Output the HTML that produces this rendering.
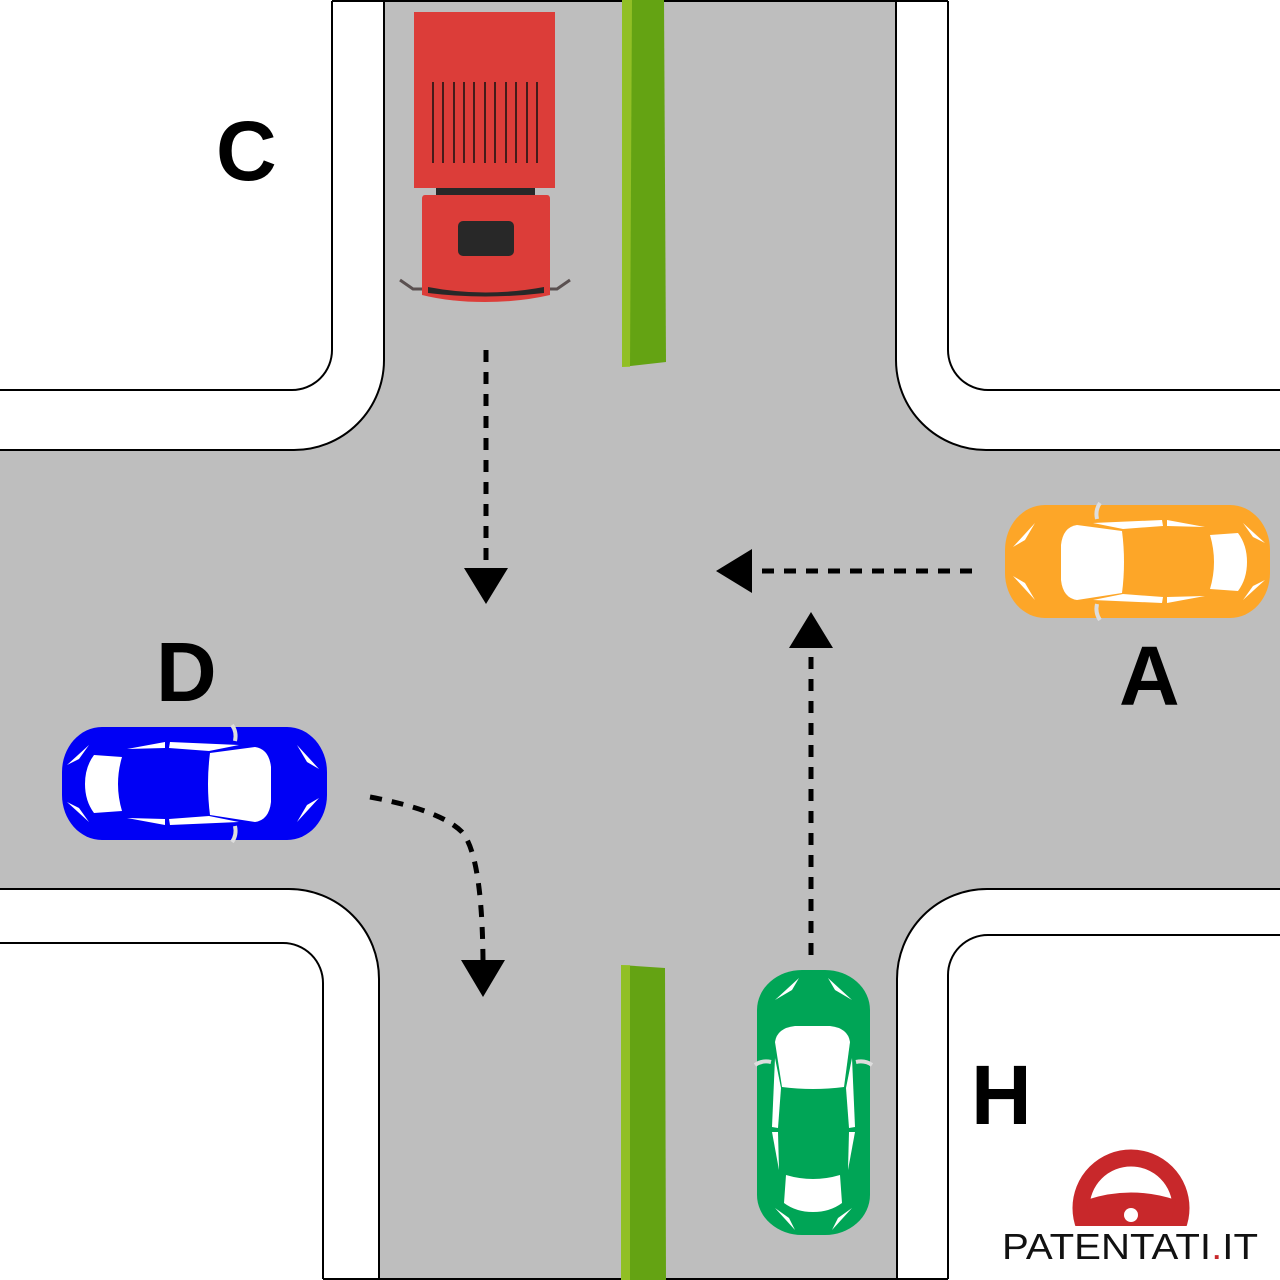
<!DOCTYPE html>
<html><head><meta charset="utf-8"><style>
html,body{margin:0;padding:0;background:#fff;}
svg{display:block;}
text{font-family:"Liberation Sans",sans-serif;font-weight:bold;}
</style></head><body>
<svg width="1280" height="1280" viewBox="0 0 1280 1280" xmlns="http://www.w3.org/2000/svg">
<defs>
<g id="car">
  <rect x="0" y="0" width="265" height="113" rx="40" ry="45"/>
  <path d="M72 20 Q58 22 56 40 L56 75 Q58 93 72 95 L117 88 Q121 57 117 26 Z" fill="#fff"/>
  <path d="M205 30 L233 28 Q242 40 242 57 Q242 74 233 86 L205 84 Q213 57 205 30 Z" fill="#fff"/>
  <path d="M88 18 L157 15 L158 21 L118 24 Z" fill="#fff"/>
  <path d="M162 15 L200 22 L162 21 Z" fill="#fff"/>
  <path d="M88 95 L157 98 L158 92 L118 89 Z" fill="#fff"/>
  <path d="M162 98 L200 91 L162 92 Z" fill="#fff"/>
  <path d="M8 42 L30 18 L20 35 Z" fill="#fff"/>
  <path d="M8 71 L30 95 L20 78 Z" fill="#fff"/>
  <path d="M238 18 L260 38 L248 32 Z" fill="#fff"/>
  <path d="M238 95 L260 75 L248 81 Z" fill="#fff"/>
  <path d="M95 -2 Q90 5 92 14" stroke="#ddd" stroke-width="4" fill="none"/>
  <path d="M95 115 Q90 108 92 99" stroke="#ddd" stroke-width="4" fill="none"/>
</g>
</defs>
<path d="M384 -2 L384 360 A90 90 0 0 1 294 450 L-2 450 L-2 889 L289 889 A90 90 0 0 1 379 979 L379 1282 L897 1282 L897 979 A90 90 0 0 1 987 889 L1282 889 L1282 450 L986 450 A90 90 0 0 1 896 360 L896 -2 Z" fill="#bebebe" stroke="#000" stroke-width="2"/>
<g fill="none" stroke="#000" stroke-width="2">
<path d="M0 390 L292 390 A40 40 0 0 0 332 350 L332 1"/>
<path d="M332 1 L948 1"/>
<path d="M948 1 L948 350 A40 40 0 0 0 988 390 L1280 390"/>
<path d="M0 943 L283 943 A40 40 0 0 1 323 983 L323 1279"/>
<path d="M1280 935 L988 935 A40 40 0 0 0 948 975 L948 1279"/>
<path d="M323 1279 L948 1279"/>
</g>
<path d="M622 0 L664 0 L666 362 L622 367 Z" fill="#64a313"/>
<path d="M622 0 L632 0 L630 367 L622 367 Z" fill="#9cc62a" opacity="0.8"/>
<path d="M621 965 L665 968 L666 1280 L621 1280 Z" fill="#64a313"/>
<path d="M621 965 L630 965 L630 1280 L621 1280 Z" fill="#9cc62a" opacity="0.8"/>
<rect x="414" y="12" width="141" height="176" fill="#dc3d39"/>
<g stroke="#111" stroke-width="1.5">
<line x1="433" y1="82" x2="433" y2="163"/><line x1="443" y1="82" x2="443" y2="163"/><line x1="454" y1="82" x2="454" y2="163"/><line x1="464" y1="82" x2="464" y2="163"/><line x1="474" y1="82" x2="474" y2="163"/><line x1="485" y1="82" x2="485" y2="163"/><line x1="495" y1="82" x2="495" y2="163"/><line x1="506" y1="82" x2="506" y2="163"/><line x1="516" y1="82" x2="516" y2="163"/><line x1="527" y1="82" x2="527" y2="163"/><line x1="537" y1="82" x2="537" y2="163"/>
</g>
<rect x="436" y="188" width="99" height="8" fill="#282828"/>
<path d="M400 280 L413 289 L425 289 M570 280 L557 289 L545 289" stroke="#5a5050" stroke-width="3" fill="none"/>
<path d="M425 195 L547 195 Q550 195 550 199 L550 295 Q520 302 485 302 Q450 302 422 295 L422 199 Q422 195 425 195 Z" fill="#dc3d39"/>
<rect x="458" y="221" width="56" height="35" rx="5" fill="#282828"/>
<path d="M428 287 Q485 298 544 287 L544 293 Q485 300 428 293 Z" fill="#282828"/>
<g fill="#fda628" transform="translate(1005,505)"><use href="#car"/></g>
<g fill="#0000f5" transform="translate(327,727) scale(-1,1)"><use href="#car"/></g>
<g fill="#00a556" transform="translate(870,970) rotate(90)"><use href="#car"/></g>
<g stroke="#000" stroke-width="5" fill="none" stroke-dasharray="12 10">
<line x1="486" y1="350" x2="486" y2="568"/>
<line x1="972" y1="571" x2="752" y2="571"/>
<line x1="811" y1="955" x2="811" y2="648"/>
<path d="M370 797 Q440 810 462 832 Q482 855 483 960"/>
</g>
<g fill="#000">
<path d="M464 568 L508 568 L486 604 Z"/>
<path d="M752 549 L752 593 L716 571 Z"/>
<path d="M789 648 L833 648 L811 612 Z"/>
<path d="M461 960 L505 960 L483 997 Z"/>
</g>
<g font-size="84" fill="#000">
<text x="216" y="180">C</text>
<text x="156" y="701">D</text>
<text x="1119" y="705">A</text>
<text x="971" y="1124">H</text>
</g>
<circle cx="1131" cy="1208" r="50" fill="none" stroke="#c8282b" stroke-width="17"/>
<rect x="1070" y="1226" width="125" height="54" fill="#fff"/>
<path d="M1086 1200 Q1131 1185 1176 1200 L1170 1226 L1092 1226 Z" fill="#c8282b"/>
<circle cx="1131" cy="1215" r="7" fill="#fff"/>
<text x="1002" y="1259" font-size="36" textLength="256" lengthAdjust="spacingAndGlyphs" fill="#111" style="font-weight:normal">PATENTATI<tspan fill="#c8282b">.</tspan>IT</text>
</svg>
</body></html>
